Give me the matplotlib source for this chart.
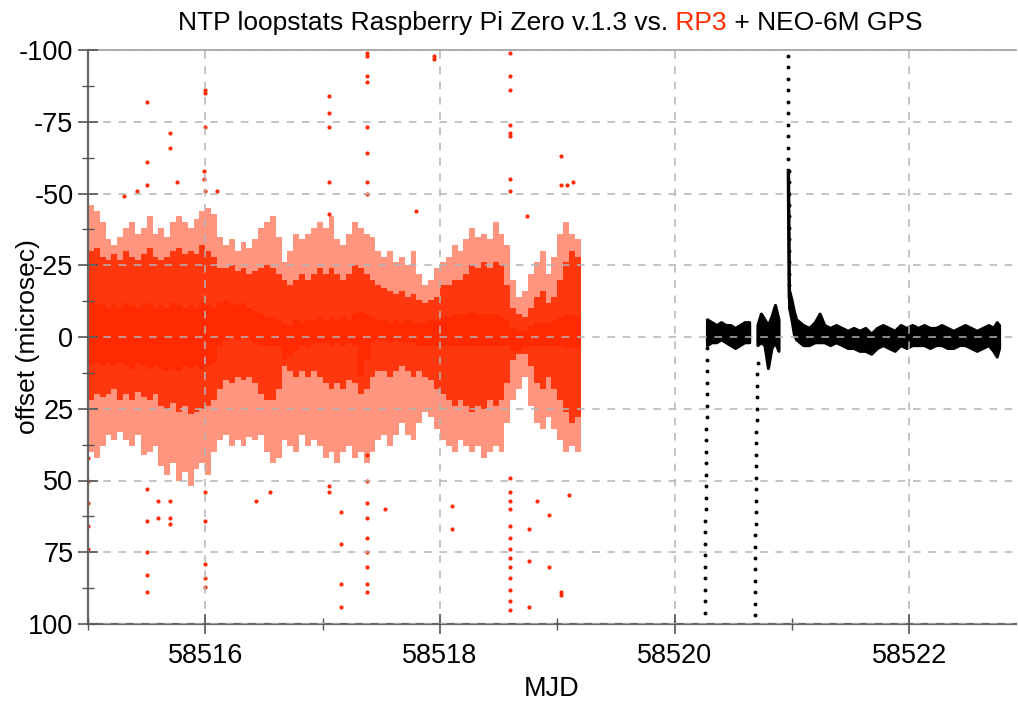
import numpy as np
import matplotlib
matplotlib.use('Agg')
import matplotlib.pyplot as plt
from matplotlib.ticker import MultipleLocator, FormatStrFormatter

# --- dados (offset em microssegundos) ---

# Pi Zero (vermelho): faixas por intervalo de 0.05 dia
red_bin = [58515.00, 58515.05, 58515.10, 58515.15, 58515.20, 58515.25, 58515.30, 58515.35, 58515.40, 58515.45,
           58515.50, 58515.55, 58515.60, 58515.65, 58515.70, 58515.75, 58515.80, 58515.85, 58515.90, 58515.95,
           58516.00, 58516.05, 58516.10, 58516.15, 58516.20, 58516.25, 58516.30, 58516.35, 58516.40, 58516.45,
           58516.50, 58516.55, 58516.60, 58516.65, 58516.70, 58516.75, 58516.80, 58516.85, 58516.90, 58516.95,
           58517.00, 58517.05, 58517.10, 58517.15, 58517.20, 58517.25, 58517.30, 58517.35, 58517.40, 58517.45,
           58517.50, 58517.55, 58517.60, 58517.65, 58517.70, 58517.75, 58517.80, 58517.85, 58517.90, 58517.95,
           58518.00, 58518.05, 58518.10, 58518.15, 58518.20, 58518.25, 58518.30, 58518.35, 58518.40, 58518.45,
           58518.50, 58518.55, 58518.60, 58518.65, 58518.70, 58518.75, 58518.80, 58518.85, 58518.90, 58518.95,
           58519.00, 58519.05, 58519.10, 58519.15]

out_top = [-46, -44, -40, -34, -32, -35, -38, -40, -36, -38,
           -42, -36, -38, -35, -40, -42, -40, -38, -41, -44,
           -45, -43, -35, -32, -34, -30, -33, -31, -34, -38,
           -40, -42, -35, -26, -30, -36, -34, -36, -38, -40,
           -38, -42, -34, -32, -36, -40, -38, -36, -35, -30,
           -28, -30, -26, -28, -25, -30, -22, -18, -20, -24,
           -26, -28, -32, -30, -34, -38, -35, -36, -34, -40,
           -36, -32, -20, -14, -16, -22, -26, -30, -22, -28,
           -36, -40, -36, -34]
out_bot = [40, 42, 38, 34, 36, 33, 36, 38, 34, 41,
           40, 38, 45, 48, 44, 50, 47, 52, 46, 44,
           48, 40, 36, 34, 38, 36, 38, 35, 36, 34,
           40, 44, 42, 36, 38, 40, 34, 38, 36, 38,
           42, 40, 44, 40, 38, 42, 40, 44, 40, 36,
           34, 38, 34, 30, 34, 36, 30, 26, 28, 32,
           36, 38, 40, 36, 38, 40, 38, 42, 40, 38,
           40, 30, 22, 18, 14, 24, 30, 32, 28, 32,
           36, 40, 38, 40]
mid_top = [-30, -31, -28, -27, -29, -27, -30, -28, -27, -29,
           -31, -28, -27, -28, -30, -31, -29, -30, -29, -32,
           -30, -28, -24, -24, -25, -23, -24, -22, -23, -24,
           -25, -24, -22, -20, -18, -20, -22, -20, -22, -24,
           -22, -24, -22, -20, -22, -25, -24, -22, -20, -18,
           -17, -16, -15, -16, -14, -15, -13, -12, -13, -14,
           -18, -18, -20, -20, -22, -25, -24, -26, -24, -26,
           -25, -18, -10, -8, -7, -10, -14, -16, -12, -14,
           -20, -26, -30, -28]
mid_bot = [22, 20, 21, 20, 18, 22, 20, 22, 19, 21,
           22, 20, 24, 25, 23, 26, 24, 27, 26, 25,
           24, 22, 18, 15, 16, 14, 15, 14, 16, 20,
           22, 22, 18, 10, 12, 14, 12, 14, 12, 14,
           16, 18, 16, 18, 15, 16, 20, 18, 14, 12,
           12, 14, 12, 10, 12, 14, 12, 14, 15, 18,
           20, 22, 24, 22, 24, 26, 24, 25, 22, 24,
           22, 16, 8, 6, 6, 10, 16, 18, 14, 18,
           22, 26, 30, 28]
core_top = [-12, -11, -12, -10, -11, -10, -12, -11, -10, -11,
            -12, -10, -11, -10, -12, -11, -10, -11, -10, -12,
            -11, -10, -12, -13, -12, -11, -12, -10, -9, -8,
            -7, -7, -6, -5, -4, -6, -5, -6, -6, -7,
            -6, -7, -6, -7, -6, -8, -9, -8, -7, -6,
            -6, -5, -6, -5, -6, -5, -5, -5, -6, -6,
            -7, -7, -8, -8, -8, -9, -8, -8, -8, -8,
            -7, -6, -3, -2, -2, -4, -5, -5, -5, -6,
            -7, -8, -8, -7]
core_bot = [10, 9, 10, 9, 10, 9, 10, 11, 9, 10,
            11, 10, 11, 12, 11, 12, 10, 11, 10, 11,
            10, 9, 3, 1, 0, 1, 0, 1, 2, 3,
            3, 3, 3, 8, 7, 5, 3, 4, 2, 2,
            2, 3, 2, 3, 2, 3, 14, 8, 2, 1,
            1, 2, 1, 2, 2, 2, 3, 3, 3, 3,
            3, 3, 3, 3, 3, 3, 3, 3, 3, 3,
            3, 3, 5, 5, 4, 3, 3, 3, 3, 3,
            3, 4, 4, 4]

# pontos isolados (picos) do Pi Zero
red_out_x = [58515.00] * 5 + [58515.31, 58515.42] + [58515.50] * 8 + [58515.60] * 2 + [58515.70] * 5 \
    + [58515.76] + [58515.99] * 2 + [58516.00] * 9 + [58516.10, 58516.43, 58516.55] + [58517.055] * 7 \
    + [58517.16] * 4 + [58517.38] * 17 + [58517.53, 58517.80] + [58517.95] * 2 + [58518.10] * 2 \
    + [58518.595] * 21 + [58518.74] + [58518.76] * 3 + [58518.83] + [58518.93] * 2 + [58519.03] * 4 \
    + [58519.08, 58519.10, 58519.13]
red_out_y = [42, 50, 58, 66, 74, -49, -51,
             -82, -61, -53, 53, 64, 75, 83, 89,
             57, 63,
             -71, -66, 57, 63, 65,
             -54, -58, -55,
             -86, -85, -73, -51, 54, 64, 79, 84, 87,
             -51, 57, 54,
             -84, -78, -73, -54, -43, 52, 54,
             61, 72, 86, 94,
             -99, -98, -91, -89, -73, -64, -54, -50, 41, 50, 58, 63, 70, 75, 80, 86, 89,
             60, -44, -98, -97, 59, 67,
             -99, -91, -86, -74, -71, -70, -55, -51, 49, 54, 57, 60, 66, 70, 74, 77, 80, 84, 88, 92, 95,
             -42, 67, 78, 94, 57, 62, 80,
             -63, -53, 89, 90,
             -53, 55, -54]

# RP3 (preto): faixa principal (nan = intervalo sem dados)
nan = float('nan')
blk_x = [58520.28, 58520.32, 58520.36, 58520.40, 58520.44, 58520.48, 58520.52, 58520.56, 58520.60, 58520.64, nan,
         58520.71, 58520.74, 58520.77, 58520.80, 58520.83, 58520.86, 58520.89, nan,
         58520.98, 58521.00, 58521.02, 58521.04, 58521.07, 58521.10, 58521.15, 58521.20, 58521.24, 58521.28,
         58521.33, 58521.38, 58521.43, 58521.48, 58521.53, 58521.58, 58521.63, 58521.68, 58521.73, 58521.78,
         58521.83, 58521.88, 58521.93, 58521.98, 58522.03, 58522.08, 58522.13, 58522.18, 58522.23, 58522.28,
         58522.33, 58522.38, 58522.43, 58522.48, 58522.53, 58522.58, 58522.63, 58522.68, 58522.72, 58522.75,
         58522.77]
blk_hi = [-6, -5, -4, -5, -4, -4, -3, -4, -5, -5, nan,
          -4, -8, -6, -4, -7, -11, -6, nan,
          -16, -13, -9, -6, -5, -4, -3, -5, -8, -4,
          -3, -4, -3, -2, -3, -2, -3, -1, -3, -4,
          -3, -2, -4, -3, -4, -3, -4, -3, -3, -4,
          -3, -2, -3, -4, -3, -2, -3, -4, -3, -5,
          -4]
blk_lo = [3, 2, 2, 1, 2, 3, 4, 3, 2, 2, nan,
          3, 2, 3, 11, 4, 2, 5, nan,
          -10, -6, -1, 1, 2, 3, 3, 2, 2, 2,
          3, 2, 3, 4, 4, 5, 5, 6, 4, 3,
          4, 5, 3, 4, 3, 3, 3, 4, 3, 3,
          4, 4, 3, 3, 4, 5, 4, 3, 5, 7,
          4]

# RP3: pontos das quedas / pico (linhas pontilhadas)
blk_dot_x = [58520.255, 58520.256, 58520.257, 58520.258, 58520.259, 58520.260, 58520.261, 58520.262,
             58520.263, 58520.264, 58520.265, 58520.266, 58520.267, 58520.268, 58520.269, 58520.270,
             58520.271, 58520.272, 58520.273, 58520.274, 58520.275, 58520.276, 58520.277, 58520.279,
             58520.281,
             58520.682, 58520.683, 58520.684, 58520.685, 58520.686, 58520.687, 58520.688, 58520.689,
             58520.690, 58520.691, 58520.692, 58520.693, 58520.694, 58520.695, 58520.696, 58520.697,
             58520.698, 58520.699, 58520.700, 58520.701, 58520.702, 58520.704, 58520.707,
             58520.966, 58520.966, 58520.967, 58520.967, 58520.968, 58520.968, 58520.969, 58520.969,
             58520.970, 58520.970, 58520.971, 58520.971, 58520.972, 58520.972, 58520.973, 58520.973,
             58520.974, 58520.975, 58520.976, 58520.977, 58520.978]
blk_dot_y = [96, 92, 88, 84, 80, 76, 72, 68, 64, 60, 56, 52, 48, 44, 40, 36, 32, 28, 24, 20, 16, 12, 8, 4, 0,
             97, 93, 89, 85, 81, 77, 73, 69, 65, 61, 57, 53, 49, 45, 41, 37, 33, 29, 25, 21, 17, 13, 9,
             -98, -94, -90, -86, -82, -78, -74, -70, -66, -62, -58, -54, -50, -46, -42, -38, -34, -30,
             -26, -22, -18]

# trecho contínuo do pico (de -58 a -14), quase sólido
spike_x = [58520.970, 58520.978]
spike_y = [-58, -14]

x_ticks = [58516, 58518, 58520, 58522]

# --- figura ---
plt.rcParams['font.family'] = ['Liberation Sans', 'DejaVu Sans']
plt.rcParams['axes.unicode_minus'] = False

VERMELHO = '#ff2a00'
fig = plt.figure(figsize=(10.18, 7.02), dpi=100)
ax = fig.add_axes([88 / 1018, 1 - 624 / 702, (1016 - 88) / 1018, (624 - 50) / 702])

largura = 0.05
centro = np.array(red_bin) + largura / 2
for topo, base, alfa in [(out_top, out_bot, 0.5), (mid_top, mid_bot, 0.88), (core_top, core_bot, 1.0)]:
    topo = np.array(topo)
    base = np.array(base)
    ax.bar(centro, base - topo, bottom=topo, width=largura, color=VERMELHO, alpha=alfa, linewidth=0)
ax.plot(red_out_x, red_out_y, 'o', ms=3, color=VERMELHO, mec='none')

ax.fill_between(np.array(blk_x), np.array(blk_hi), np.array(blk_lo), color='black', edgecolor='black',
                linewidth=2.2)
ax.plot(blk_dot_x, blk_dot_y, 'o', ms=2.8, color='black', mec='none')
ax.plot(spike_x, spike_y, '-', lw=2.5, color='black')

# eixos
ax.set_xlim(58515.0, 58522.91)
ax.set_ylim(100, -100)
ax.set_xticks(x_ticks)
ax.xaxis.set_minor_locator(MultipleLocator(1))
ax.xaxis.set_major_formatter(FormatStrFormatter('%d'))
ax.yaxis.set_major_locator(MultipleLocator(25))
ax.yaxis.set_minor_locator(MultipleLocator(12.5))
ax.yaxis.set_major_formatter(FormatStrFormatter('%d'))

ax.tick_params(which='major', direction='inout', length=15, width=1.2, color='#555555', labelsize=19.5)
ax.tick_params(which='minor', direction='inout', length=8, width=1.0, color='#555555')
ax.tick_params(axis='x', which='major', pad=6)
ax.tick_params(axis='y', which='major', pad=3)

ax.grid(True, which='major', color='#b4b4b4', linestyle=(0, (5, 5)), linewidth=1.1)
ax.set_axisbelow(False)

for lado in ['left', 'bottom']:
    ax.spines[lado].set_color('#666666')
    ax.spines[lado].set_linewidth(1.6)
ax.spines['top'].set_color('#999999')
ax.spines['top'].set_linewidth(1.2)
ax.spines['right'].set_visible(False)

ax.set_xlabel('MJD', fontsize=19.5, labelpad=5)
ax.set_ylabel('offset (microsec)', fontsize=19)
ax.yaxis.set_label_coords(-0.052, 0.5)

# título em três partes (RP3 em vermelho)
TAM = 19
t1 = fig.text(178 / 1018, 1 - 30 / 702, 'NTP loopstats Raspberry Pi Zero v.1.3 vs.', fontsize=TAM,
              ha='left', va='baseline')
t2 = fig.text(0, 0, ' RP3', fontsize=TAM, color=VERMELHO, ha='left', va='bottom')
t3 = fig.text(0, 0, ' + NEO-6M GPS', fontsize=TAM, ha='left', va='bottom')
fig.canvas.draw()
bb1 = t1.get_window_extent()
t2.set_position((bb1.x1 / fig.bbox.width, bb1.y0 / fig.bbox.height))
fig.canvas.draw()
bb2 = t2.get_window_extent()
t3.set_position((bb2.x1 / fig.bbox.width, bb1.y0 / fig.bbox.height))

fig.savefig('out.png', dpi=100)
